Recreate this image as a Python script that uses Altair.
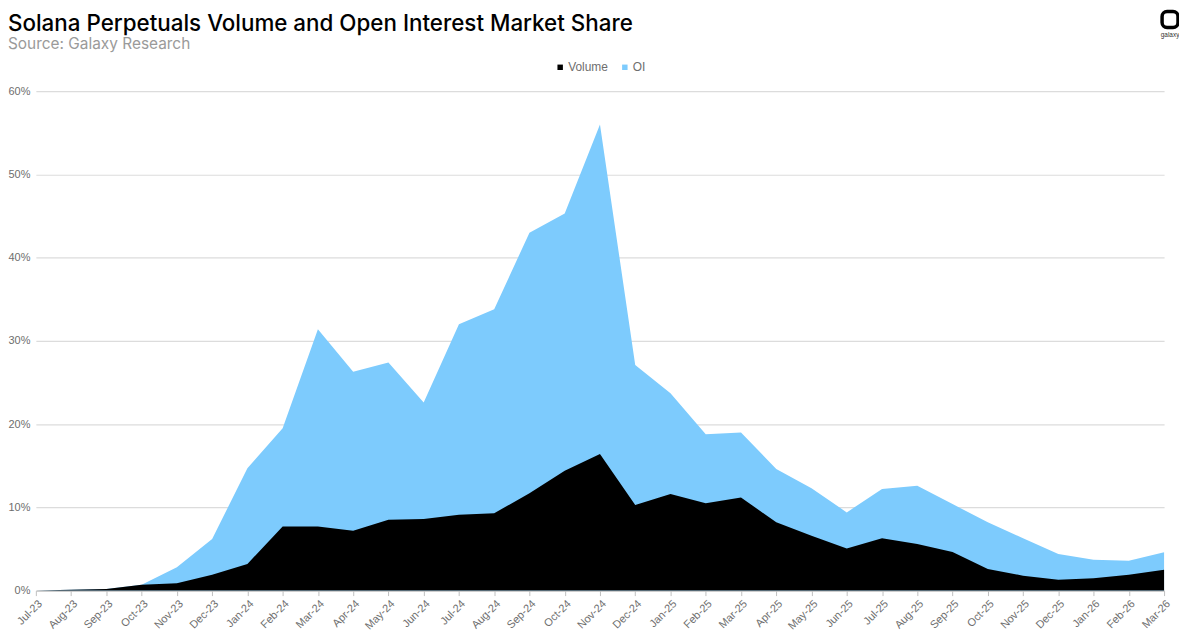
import altair as alt
import pandas as pd

months = ["Jul-23","Aug-23","Sep-23","Oct-23","Nov-23","Dec-23",
          "Jan-24","Feb-24","Mar-24","Apr-24","May-24","Jun-24","Jul-24","Aug-24","Sep-24","Oct-24","Nov-24","Dec-24",
          "Jan-25","Feb-25","Mar-25","Apr-25","May-25","Jun-25","Jul-25","Aug-25","Sep-25","Oct-25","Nov-25","Dec-25",
          "Jan-26","Feb-26","Mar-26"]
oi = [0.0,0.1,0.2,0.7,2.8,6.2,
      14.7,19.5,31.4,26.3,27.4,22.6,32.0,33.8,43.0,45.3,56.0,27.1,
      23.7,18.8,19.0,14.6,12.3,9.4,12.2,12.6,10.4,8.2,6.3,4.4,
      3.7,3.6,4.6]
volume = [0.0,0.1,0.2,0.7,0.9,1.9,
          3.2,7.7,7.7,7.2,8.5,8.6,9.1,9.3,11.7,14.4,16.4,10.3,
          11.6,10.5,11.2,8.2,6.6,5.05,6.3,5.6,4.65,2.6,1.8,1.3,
          1.5,1.9,2.5]

rows = []
for m, v, o in zip(months, volume, oi):
    rows.append({"month": m, "series": "OI", "value": o / 100, "order": 0})
    rows.append({"month": m, "series": "Volume", "value": v / 100, "order": 1})
df = pd.DataFrame(rows)

W, H = 1134, 502
BLUE = "#7dcbfd"
LABEL = "#6e6e6e"

base = alt.Chart(df)

areas = base.mark_area(opacity=1, interpolate="linear").encode(
    x=alt.X("month:N", sort=months,
            scale=alt.Scale(type="point", padding=0),
            axis=alt.Axis(title=None, labelAngle=-45, labelColor=LABEL,
                          labelFont="Liberation Sans", labelFontSize=11,
                          domainColor="#bfbfbf", tickColor="#bfbfbf", tickSize=5,
                          grid=False, labelPadding=2)),
    y=alt.Y("value:Q", stack=None,
            scale=alt.Scale(domain=[0, 0.6], nice=False),
            axis=alt.Axis(title=None, format=".0%", values=[0,0.1,0.2,0.3,0.4,0.5,0.6],
                          labelColor=LABEL, labelFont="Liberation Sans", labelFontSize=11,
                          domain=False, ticks=False, gridColor="#dcdcdc", gridWidth=1.2,
                          labelPadding=6)),
    color=alt.Color("series:N",
                    scale=alt.Scale(domain=["Volume", "OI"], range=["#000000", BLUE]),
                    legend=alt.Legend(title=None, orient="none", direction="horizontal",
                                      legendX=521, legendY=-30, symbolType="square",
                                      symbolSize=30, symbolStrokeWidth=0,
                                      labelFont="Liberation Sans", labelFontSize=12,
                                      labelColor=LABEL, columnPadding=10, labelOffset=2)),
    order=alt.Order("order:Q"),
)

logo_box = alt.Chart(pd.DataFrame({"k": [0]})).mark_rect(
    fill="white", stroke="black", strokeWidth=3.5, cornerRadius=5
).encode(x=alt.value(1132), x2=alt.value(1148), y=alt.value(-80), y2=alt.value(-64))

logo_txt = alt.Chart(pd.DataFrame({"t": ["galaxy"]})).mark_text(
    font="Liberation Sans", fontSize=6.5, color="#333333", align="center", baseline="middle"
).encode(text="t:N", x=alt.value(1140), y=alt.value(-56))

chart = alt.layer(areas, logo_box, logo_txt).properties(
    width=W, height=H,
    autosize=alt.AutoSizeParams(type="none"),
    padding={"left": 28, "top": 82, "right": 15, "bottom": 43},
    title=alt.TitleParams(
        text="Solana Perpetuals Volume and Open Interest Market Share",
        subtitle="Source: Galaxy Research",
        anchor="start", frame="bounds",
        font="Inter", fontSize=22.5, fontWeight=500, color="#000000",
        subtitleFont="Inter", subtitleFontSize=15.5, subtitleColor="#9a9a9a",
        subtitlePadding=2, offset=-43,
    ),
).configure(background="white").configure_view(stroke=None)

chart.save("out.html", embed_options={"renderer": "svg", "actions": False})
